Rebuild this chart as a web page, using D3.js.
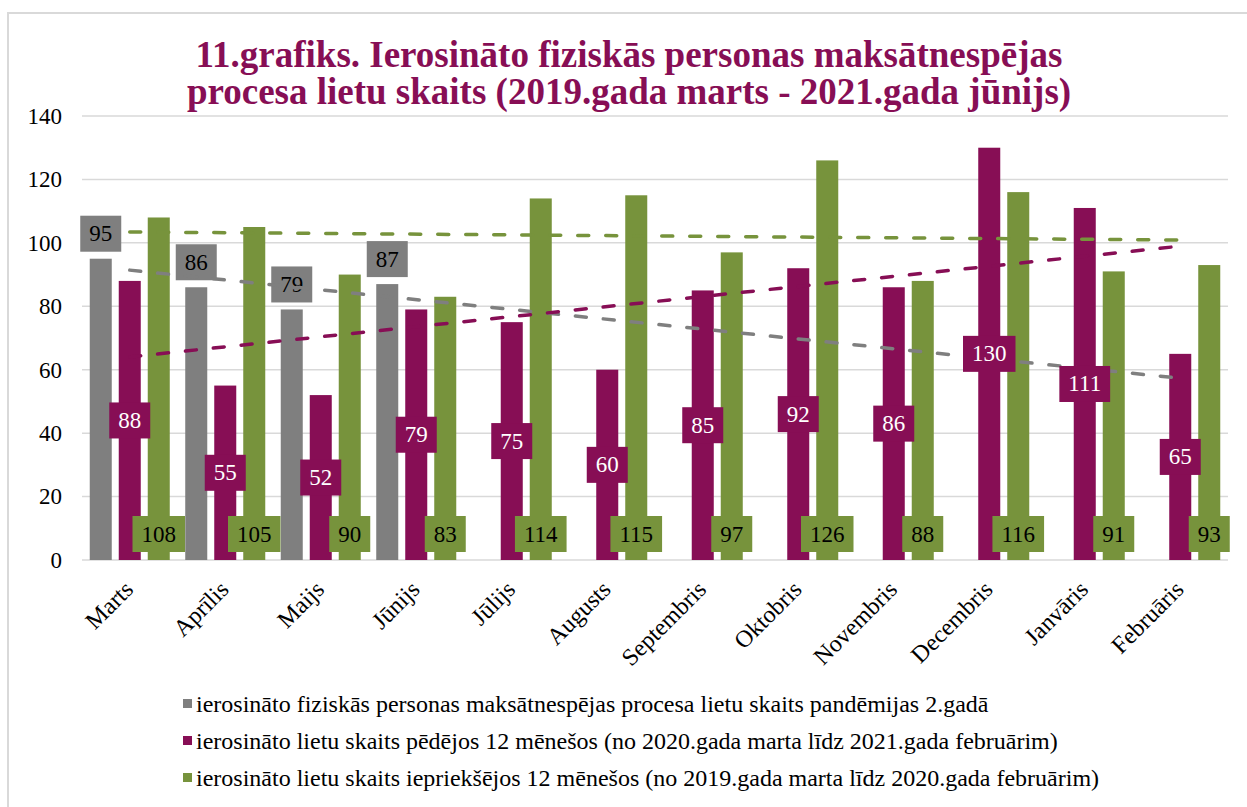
<!DOCTYPE html>
<html>
<head>
<meta charset="utf-8">
<script src="https://cdn.jsdelivr.net/npm/d3@7"></script>
<style>
  html, body { margin: 0; padding: 0; background: #fff; }
  svg { display: block; font-family: "Liberation Serif", "Times New Roman", serif; }
</style>
</head>
<body>
<svg id="chart" width="1247" height="807"></svg>
<script>
const titleLines = ["11.grafiks. Ierosināto fiziskās personas maksātnespējas",
                    "procesa lietu skaits (2019.gada marts - 2021.gada jūnijs)"];
const months = ["Marts","Aprīlis","Maijs","Jūnijs","Jūlijs","Augusts","Septembris","Oktobris","Novembris","Decembris","Janvāris","Februāris"];
const seriesNames = [
  "ierosināto fiziskās personas maksātnespējas procesa lietu skaits pandēmijas 2.gadā",
  "ierosināto lietu skaits pēdējos 12 mēnešos (no 2020.gada marta līdz 2021.gada februārim)",
  "ierosināto lietu skaits iepriekšējos 12 mēnešos (no 2019.gada marta līdz 2020.gada februārim)"
];
const pandemicYear2 = [95, 86, 79, 87, null, null, null, null, null, null, null, null];
const last12 = [88, 55, 52, 79, 75, 60, 85, 92, 86, 130, 111, 65];
const prev12 = [108, 105, 90, 83, 114, 115, 97, 126, 88, 116, 91, 93];
const yTicks = [0, 20, 40, 60, 80, 100, 120, 140];
const colors = ["#7F7F7F", "#870E55", "#77933C"];

const series = [pandemicYear2, last12, prev12];
const svg = d3.select("#chart");

// outer frame
svg.append("path").attr("d", "M8,807 V13 H1247").attr("fill", "none")
   .attr("stroke", "#D9D9D9").attr("stroke-width", 2);

const x0 = d3.scaleBand().domain(months).range([82, 1228]).paddingInner(0).paddingOuter(0);
const x1 = d3.scaleBand().domain([0, 1, 2]).range([0, x0.bandwidth()]).paddingInner(0.241).paddingOuter(0.267);
const y = d3.scaleLinear().domain([0, 140]).range([560, 116]);

// gridlines
svg.append("g").selectAll("line").data(yTicks).join("line")
  .attr("x1", 82).attr("x2", 1228)
  .attr("y1", d => y(d)).attr("y2", d => y(d))
  .attr("stroke", "#D9D9D9").attr("stroke-width", 1.5);

// y axis labels
const yAxis = d3.axisLeft(y).tickValues(yTicks).tickSize(0).tickPadding(0);
const gy = svg.append("g").attr("transform", "translate(62,0)").call(yAxis);
gy.select(".domain").remove();
gy.selectAll("text").attr("font-size", 23).attr("fill", "#000")
  .attr("font-family", "Liberation Serif, serif");

// x axis labels
const xAxis = d3.axisBottom(x0).tickSize(0).tickPadding(0);
const gx = svg.append("g").call(xAxis);
gx.select(".domain").remove();
gx.selectAll(".tick text")
  .attr("font-size", 24).attr("fill", "#000").attr("font-family", "Liberation Serif, serif")
  .attr("text-anchor", "end").attr("dy", "0.7em").attr("y", 0)
  .attr("transform", `translate(-7,579) rotate(-45)`);

// bars
series.forEach((vals, si) => {
  svg.append("g").selectAll("rect").data(vals.map((v, i) => ({v, m: months[i]})).filter(d => d.v != null))
    .join("rect")
    .attr("x", d => x0(d.m) + x1(si))
    .attr("width", x1.bandwidth())
    .attr("y", d => y(d.v))
    .attr("height", d => y(0) - y(d.v))
    .attr("fill", colors[si]);
});

function label(g, cx, cy, text, bg, fg) {
  const t = g.append("text").attr("x", cx).attr("y", cy)
    .attr("text-anchor", "middle").attr("dominant-baseline", "central")
    .attr("font-size", 23).attr("fill", fg).text(text);
  const w = t.node().getComputedTextLength() + 18;
  g.insert("rect", "text").attr("x", cx - w/2).attr("y", cy - 18).attr("width", w).attr("height", 36).attr("fill", bg);
}

// grey labels (below trendlines)
const gGrey = svg.append("g");
pandemicYear2.forEach((v, i) => {
  if (v == null) return;
  const gg = gGrey.append("g");
  label(gg, x0(months[i]) + x1(0) + x1.bandwidth()/2, y(v) - 25, v, colors[0], "#000");
});

// trendlines (linear regression of each series)
function trend(vals) {
  const pts = vals.map((v, i) => [i + 1, v]).filter(p => p[1] != null);
  const mx = d3.mean(pts, p => p[0]), my = d3.mean(pts, p => p[1]);
  const slope = d3.sum(pts, p => (p[0]-mx)*(p[1]-my)) / d3.sum(pts, p => (p[0]-mx)**2);
  return xx => my + slope * (xx - mx);
}
series.forEach((vals, si) => {
  const f = trend(vals);
  const x1p = x0(months[0]) + x0.bandwidth()/2;
  const x2p = x0(months[11]) + x0.bandwidth()/2;
  svg.append("line")
    .attr("x1", x1p).attr("y1", y(f(1)))
    .attr("x2", x2p).attr("y2", y(f(12)))
    .attr("stroke", colors[si]).attr("stroke-width", 3.5)
    .attr("stroke-linecap", "round").attr("stroke-dasharray", "11,17");
});

// maroon labels (center)
last12.forEach((v, i) => {
  const gg = svg.append("g");
  label(gg, x0(months[i]) + x1(1) + x1.bandwidth()/2, y(v/2), v, colors[1], "#fff");
});
// green labels (inside base)
prev12.forEach((v, i) => {
  const gg = svg.append("g");
  label(gg, x0(months[i]) + x1(2) + x1.bandwidth()/2, y(0) - 26, v, colors[2], "#000");
});

// title
const tt = svg.append("text").attr("x", 629).attr("text-anchor", "middle")
  .attr("font-size", 37).attr("font-weight", "bold").attr("fill", "#870E55");
tt.append("tspan").attr("x", 629).attr("y", 67).text(titleLines[0]);
tt.append("tspan").attr("x", 629).attr("y", 104).text(titleLines[1]);

// legend
const lg = svg.append("g");
const rowsY = [704, 741, 778];
seriesNames.forEach((name, i) => {
  lg.append("rect").attr("x", 183).attr("y", rowsY[i] - 5).attr("width", 9).attr("height", 9).attr("fill", colors[i]);
  lg.append("text").attr("x", 196).attr("y", rowsY[i]).attr("dominant-baseline", "central")
    .attr("font-size", 24).attr("fill", "#000").text(name);
});
</script>
</body>
</html>
